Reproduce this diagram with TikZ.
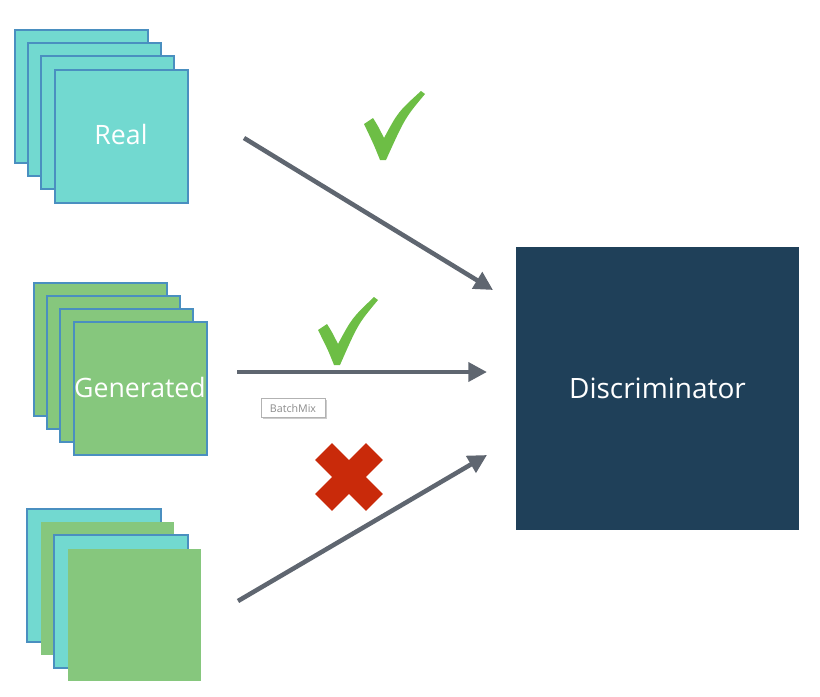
\documentclass[tikz,border=0pt]{standalone}
\usepackage{fontspec}
\setmainfont{Open Sans}
\usetikzlibrary{arrows.meta}
\definecolor{cy}{HTML}{72D9D0}
\definecolor{gr}{HTML}{86C77D}
\definecolor{bd}{HTML}{4A8FC0}
\definecolor{ar}{HTML}{5F6670}
\definecolor{dk}{HTML}{1F4059}
\definecolor{ck}{HTML}{6DBE45}
\definecolor{rx}{HTML}{C92A0A}
\begin{document}
\begin{tikzpicture}[x=0.75pt,y=-0.75pt,
  sheet/.style={draw=bd,line width=0.9pt},
  arr/.style={draw=ar,line width=3.4pt,-{Triangle[length=14pt,width=14pt]}},
  lbl/.style={text=white,font=\fontsize{20}{20}\selectfont}]
\useasboundingbox (0,0) rectangle (820,696);
% Real
\foreach \dx/\dy in {15/30,28/43,41/56}
  \filldraw[sheet,fill=cy] (\dx,\dy) rectangle ++(133,133);
\filldraw[sheet,fill=cy] (55,70) rectangle (188,203);
\node[lbl] (real) at (121,134) {Real};
% Generated
\foreach \dx/\dy in {34/283,47/296,60/309}
  \filldraw[sheet,fill=gr] (\dx,\dy) rectangle ++(133,133);
\filldraw[sheet,fill=gr] (74,322) rectangle (207,455);
\node[lbl] (gen) at (140,387) {Generated};
% Mixed
\filldraw[sheet,fill=cy] (27,509) rectangle (161,642);
\fill[gr] (41,522) rectangle (174,655);
\filldraw[sheet,fill=cy] (54,535) rectangle (188,668);
\fill[gr] (68,549) rectangle (201,681);
% Discriminator
\node[fill=dk,minimum width=212pt,minimum height=212pt,inner sep=0pt,text=white,font=\fontsize{21}{21}\selectfont] (disc) at (657.5,388.5) {Discriminator};
% arrows
\coordinate (a1) at (244,138); \coordinate (b1) at (493,290);
\coordinate (a2) at (237,372); \coordinate (b2) at (487,372);
\coordinate (a3) at (238,601); \coordinate (b3) at (487,455);
\draw[arr] (a1) -- (b1);
\draw[arr] (a2) -- (b2);
\draw[arr] (a3) -- (b3);
% checks
\fill[ck] (364,124) -- (373,118) .. controls (378,126) .. (384,138) .. controls (398,112) .. (421,91) -- (425,94) .. controls (405,118) .. (386,160) -- (380,160) .. controls (374,145) .. (364,124) -- cycle;
\fill[ck] (318,330) -- (327,324) .. controls (332,332) .. (338,344) .. controls (352,318) .. (374,297) -- (378,300) .. controls (358,324) .. (340,365) -- (334,365) .. controls (328,350) .. (318,330) -- cycle;
% cross
\fill[rx,rotate around={45:(349,477)}] (313,465) rectangle (385,489);
\fill[rx,rotate around={-45:(349,477)}] (313,465) rectangle (385,489);
% BatchMix
\fill[black!20] (263,400) rectangle (327,419);
\node[draw=black!30,fill=white,text=black!45,font=\fontsize{8}{8}\selectfont,minimum width=48pt,minimum height=14pt,inner sep=0pt] (bm) at (293,408) {BatchMix};
\end{tikzpicture}
\end{document}
